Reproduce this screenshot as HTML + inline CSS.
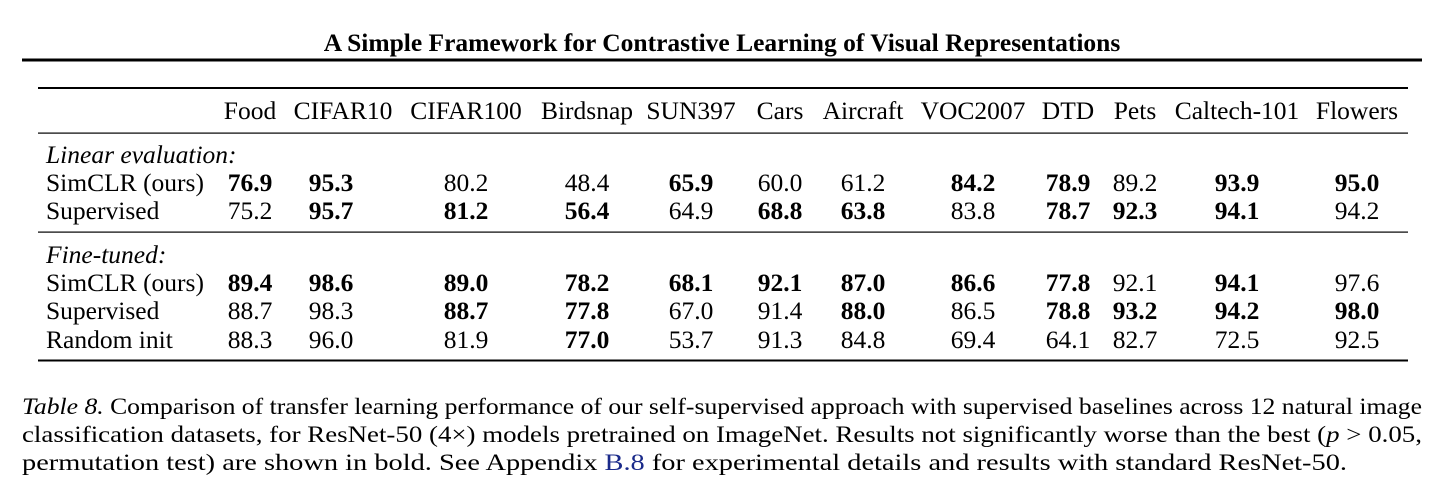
<!DOCTYPE html>
<html><head><meta charset="utf-8"><style>
html,body{margin:0;padding:0;background:#fff;}
svg{display:block;font-family:"Liberation Serif",serif;}
</style></head><body>
<svg width="1442" height="500" viewBox="0 0 1442 500">
<text x="722" y="51" text-anchor="middle" font-size="25.5" font-weight="bold">A Simple Framework for Contrastive Learning of Visual Representations</text>
<rect x="22" y="58.5" width="1400" height="3" fill="#000"/>
<rect x="38" y="87" width="1370" height="2" fill="#000"/>
<rect x="38" y="132.5" width="1370" height="1.2" fill="#000"/>
<rect x="38" y="231.5" width="1370" height="1.2" fill="#000"/>
<rect x="38" y="359.5" width="1370" height="2" fill="#000"/>
<g id="tbl" font-size="25.5"></g>
<g font-size="23">
<text x="22" y="414" textLength="1400" lengthAdjust="spacingAndGlyphs"><tspan font-style="italic">Table 8.</tspan> Comparison of transfer learning performance of our self-supervised approach with supervised baselines across 12 natural image</text>
<text x="22" y="442" textLength="1400" lengthAdjust="spacingAndGlyphs">classification datasets, for ResNet-50 (4×) models pretrained on ImageNet. Results not significantly worse than the best (<tspan font-style="italic">p</tspan> &gt; 0.05,</text>
<text x="22" y="470" textLength="1325" lengthAdjust="spacingAndGlyphs">permutation test) are shown in bold. See Appendix <tspan fill="#1a2a8a">B.8</tspan> for experimental details and results with standard ResNet-50.</text>
</g>
</svg>
<script>
const datasets=["Food","CIFAR10","CIFAR100","Birdsnap","SUN397","Cars","Aircraft","VOC2007","DTD","Pets","Caltech-101","Flowers"];
const colCenters=[250,331,466,587,691,780,863,973,1068,1135,1237,1357];
const headerCenters=[250,343,466,587,691,780,863,973,1068,1135,1237,1357];
const linSim=["76.9*","95.3*","80.2","48.4","65.9*","60.0","61.2","84.2*","78.9*","89.2","93.9*","95.0*"];
const linSup=["75.2","95.7*","81.2*","56.4*","64.9","68.8*","63.8*","83.8","78.7*","92.3*","94.1*","94.2"];
const ftSim=["89.4*","98.6*","89.0*","78.2*","68.1*","92.1*","87.0*","86.6*","77.8*","92.1","94.1*","97.6"];
const ftSup=["88.7","98.3","88.7*","77.8*","67.0","91.4","88.0*","86.5","78.8*","93.2*","94.2*","98.0*"];
const ftRand=["88.3","96.0","81.9","77.0*","53.7","91.3","84.8","69.4","64.1","82.7","72.5","92.5"];
const NS="http://www.w3.org/2000/svg";
const g=document.getElementById('tbl');
function txt(x,y,s,anchor,opts){
  const t=document.createElementNS(NS,'text');
  t.setAttribute('x',x);t.setAttribute('y',y);
  t.setAttribute('text-anchor',anchor);
  if(opts&&opts.bold)t.setAttribute('font-weight','bold');
  if(opts&&opts.italic)t.setAttribute('font-style','italic');
  t.textContent=s;g.appendChild(t);return t;
}
datasets.forEach((d,i)=>{
  const t=txt(headerCenters[i],119,d,'middle');
  
  
});
let s1=txt(46,163,'Linear evaluation:','start',{italic:true});


let s2=txt(46,263,'Fine-tuned:','start',{italic:true});


const rows=[["SimCLR (ours)",191,linSim],["Supervised",219,linSup],["SimCLR (ours)",291,ftSim],["Supervised",319,ftSup],["Random init",348,ftRand]];
rows.forEach(r=>{
  const l=txt(46,r[1],r[0],'start');
  
  
  r[2].forEach((v,i)=>{
    const b=v.endsWith('*');
    const c=txt(colCenters[i],r[1],b?v.slice(0,-1):v,'middle',{bold:b});
    
    
  });
});
</script>
</body></html>
